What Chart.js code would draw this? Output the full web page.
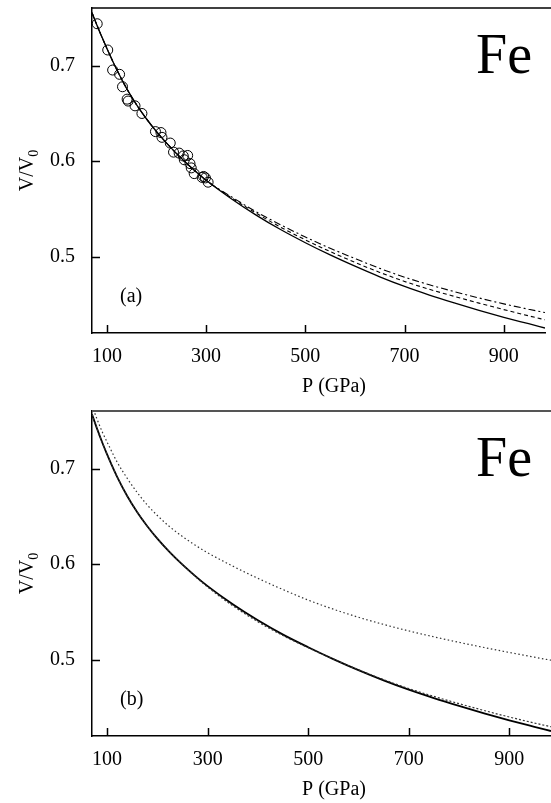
<!DOCTYPE html>
<html>
<head>
<meta charset="utf-8">
<script src="https://cdn.jsdelivr.net/npm/chart.js@4/dist/chart.umd.min.js"></script>
<style>
  html, body { margin: 0; padding: 0; background: #fff; }
  #wrap { position: relative; width: 551px; height: 803px; overflow: hidden; }
  canvas { position: absolute; left: 0; }
  #ca { top: 0; }
  #cb { top: 400px; }
</style>
</head>
<body>
<div id="wrap">
  <canvas id="ca" width="551" height="400"></canvas>
  <canvas id="cb" width="551" height="403"></canvas>
</div>
<script>
// ---------- data ----------
const P = [70, 80, 90, 100, 120, 140, 160, 180, 200, 225, 250, 275, 300, 350, 400, 450, 500, 550, 600, 650, 700, 750, 800, 850, 900, 950, 983];

// panel (a)
const solidA   = [0.7555, 0.7425, 0.7300, 0.7182, 0.6958, 0.6760, 0.6590, 0.6442, 0.6310, 0.6163, 0.6030, 0.5910, 0.5800, 0.5610, 0.5438, 0.5284, 0.5146, 0.5018, 0.4900, 0.4789, 0.4688, 0.4598, 0.4516, 0.4438, 0.4365, 0.4297, 0.4252];
const dashedA  = [0.7555, 0.7425, 0.7300, 0.7182, 0.6958, 0.6760, 0.6590, 0.6442, 0.6310, 0.6163, 0.6030, 0.5910, 0.5800, 0.5620, 0.5458, 0.5309, 0.5176, 0.5053, 0.4940, 0.4835, 0.4740, 0.4658, 0.4584, 0.4513, 0.4445, 0.4380, 0.4338];
const dashDotA = [0.7555, 0.7425, 0.7300, 0.7182, 0.6958, 0.6760, 0.6590, 0.6442, 0.6310, 0.6163, 0.6030, 0.5910, 0.5800, 0.5630, 0.5473, 0.5334, 0.5206, 0.5088, 0.4980, 0.4877, 0.4785, 0.4705, 0.4634, 0.4567, 0.4505, 0.4449, 0.4414];

const expP = [80.5, 101.7, 111.6, 125.6, 131.5, 140.8, 142.8, 156.7, 170.6, 197.9, 209, 211, 227.7, 234.3, 245.6, 254, 262.8, 256, 267.5, 270, 276, 292, 295, 298.6, 304];
const expV = [0.744, 0.7165, 0.6955, 0.691, 0.678, 0.665, 0.663, 0.658, 0.650, 0.631, 0.630, 0.625, 0.619, 0.6095, 0.6085, 0.6055, 0.606, 0.6015, 0.5975, 0.593, 0.587, 0.583, 0.584, 0.5825, 0.578];

// panel (b)
const solidB   = [0.757, 0.742, 0.728, 0.715, 0.6915, 0.6715, 0.6545, 0.6398, 0.6268, 0.6124, 0.5995, 0.5878, 0.5770, 0.5580, 0.5412, 0.5262, 0.5130, 0.5006, 0.4890, 0.4783, 0.4685, 0.4597, 0.4515, 0.4437, 0.4364, 0.4296, 0.4252];
const dashedB  = [0.757, 0.742, 0.728, 0.715, 0.6915, 0.6715, 0.6545, 0.6398, 0.6268, 0.6124, 0.5995, 0.5873, 0.5760, 0.5565, 0.5397, 0.5252, 0.5125, 0.5006, 0.4893, 0.4791, 0.4697, 0.4615, 0.4539, 0.4467, 0.4399, 0.4336, 0.4297];
const dottedB  = [0.766, 0.752, 0.739, 0.728, 0.707, 0.690, 0.675, 0.662, 0.651, 0.639, 0.629, 0.620, 0.612, 0.598, 0.5852, 0.5734, 0.5624, 0.5529, 0.5444, 0.5369, 0.5301, 0.5239, 0.5181, 0.5127, 0.5075, 0.5026, 0.4994];

const xTicks = [100, 300, 500, 700, 900];
const yTicks = [0.5, 0.6, 0.7];
const xTitle = 'P (GPa)';
const yTitleMain = 'V/V';
const yTitleSub = '0';
const elementLabel = 'Fe';

// ---------- helpers ----------
const SERIF = "'Liberation Serif', 'Times New Roman', serif";
const pts = (xs, ys) => xs.map((x, i) => ({ x: x, y: ys[i] }));

function lineDs(vals, dash, width, color) {
  return {
    type: 'line',
    data: pts(P, vals),
    borderColor: color || '#000',
    borderWidth: width,
    borderDash: dash,
    pointRadius: 0,
    fill: false,
    cubicInterpolationMode: 'monotone',
    order: 2
  };
}

const decor = {
  id: 'decor',
  afterDraw(chart, args, o) {
    const ctx = chart.ctx;
    const a = chart.chartArea;
    const xs = chart.scales.x, ys = chart.scales.y;
    ctx.save();
    // top frame line
    ctx.strokeStyle = o.topColor;
    ctx.lineWidth = o.topWidth;
    ctx.beginPath();
    ctx.moveTo(a.left, a.top);
    ctx.lineTo(chart.width, a.top);
    ctx.stroke();
    // inward tick marks
    ctx.strokeStyle = '#000';
    ctx.lineWidth = 1.5;
    ctx.beginPath();
    xTicks.forEach(v => {
      const px = Math.round(xs.getPixelForValue(v)) + 0.5;
      ctx.moveTo(px, a.bottom);
      ctx.lineTo(px, a.bottom - 8);
    });
    yTicks.forEach(v => {
      const py = Math.round(ys.getPixelForValue(v)) + 0.5;
      ctx.moveTo(a.left, py);
      ctx.lineTo(a.left + 8, py);
    });
    ctx.stroke();
    ctx.fillStyle = '#000';
    // element label
    ctx.font = '56px ' + SERIF;
    ctx.textAlign = 'left';
    ctx.textBaseline = 'alphabetic';
    ctx.fillText(elementLabel, 476, a.top + 64.5);
    // panel label
    ctx.font = '20px ' + SERIF;
    ctx.fillText(o.panel, 120, a.bottom - 31.5);
    // x title
    ctx.textAlign = 'center';
    ctx.textBaseline = 'middle';
    ctx.fillText(xTitle, 334, a.bottom + 54);
    // y title (rotated, with subscript)
    const cy = (a.top + a.bottom) / 2;
    ctx.translate(33, cy);
    ctx.rotate(-Math.PI / 2);
    ctx.textAlign = 'left';
    ctx.textBaseline = 'alphabetic';
    ctx.font = '20px ' + SERIF;
    const wMain = ctx.measureText(yTitleMain).width;
    ctx.font = '14px ' + SERIF;
    const wSub = ctx.measureText(yTitleSub).width;
    const x0 = -(wMain + wSub) / 2;
    ctx.font = '20px ' + SERIF;
    ctx.fillText(yTitleMain, x0, 0);
    ctx.font = '14px ' + SERIF;
    ctx.fillText(yTitleSub, x0 + wMain, 5);
    ctx.restore();
  }
};

function makeChart(id, datasets, panel, topPad, topColor, topWidth) {
  return new Chart(document.getElementById(id), {
    type: 'line',
    data: { datasets: datasets },
    options: {
      responsive: false,
      devicePixelRatio: 1,
      animation: false,
      layout: { padding: { top: topPad, right: 0, left: 0, bottom: 0 } },
      plugins: {
        legend: { display: false },
        tooltip: { enabled: false },
        decor: { panel: panel, topColor: topColor, topWidth: topWidth }
      },
      scales: {
        x: {
          type: 'linear',
          min: 70,
          max: 983,
          afterFit: s => { s.height = 67; s.paddingLeft = 0; s.paddingRight = 0; },
          afterBuildTicks: s => { s.ticks = xTicks.map(v => ({ value: v })); },
          grid: { display: false, drawTicks: false },
          border: { display: true, color: '#000', width: 1.5 },
          ticks: {
            padding: 12,
            color: '#000',
            font: { family: SERIF, size: 20 },
            maxRotation: 0,
            autoSkip: false,
            callback: v => String(v)
          }
        },
        y: {
          type: 'linear',
          min: 0.42,
          max: 0.7605,
          afterFit: s => { s.width = 92; s.paddingTop = 0; s.paddingBottom = 0; },
          afterBuildTicks: s => { s.ticks = yTicks.map(v => ({ value: v })); },
          grid: { display: false, drawTicks: false },
          border: { display: true, color: '#000', width: 1.5 },
          ticks: {
            padding: 17,
            color: '#000',
            font: { family: SERIF, size: 20 },
            callback: v => Number(v).toFixed(1)
          }
        }
      }
    },
    plugins: [decor]
  });
}

makeChart('ca', [
  {
    type: 'scatter',
    data: pts(expP, expV),
    showLine: false,
    pointStyle: 'circle',
    pointRadius: 5,
    pointBorderWidth: 1,
    pointBorderColor: '#000',
    pointBackgroundColor: 'rgba(0,0,0,0)',
    order: 1
  },
  lineDs(dashDotA, [7, 3, 2, 3], 1.1),
  lineDs(dashedA, [4, 3], 1.1),
  lineDs(solidA, [], 1.3)
], '(a)', 8, '#000', 1.3);

makeChart('cb', [
  lineDs(dottedB, [1.5, 2.5], 1.2, '#333'),
  lineDs(dashedB, [2, 2], 1.2, '#333'),
  lineDs(solidB, [], 1.8)
], '(b)', 11, '#555', 2);
</script>
</body>
</html>
